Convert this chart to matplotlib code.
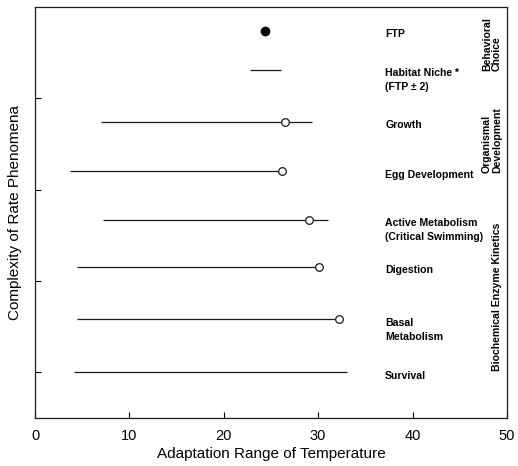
import matplotlib
matplotlib.use("Agg")
import matplotlib.pyplot as plt

plt.rcParams['font.family'] = ['Liberation Sans', 'DejaVu Sans']

# rows, bottom to top
labels = ["Survival", "Basal\nMetabolism", "Digestion",
          "Active Metabolism\n(Critical Swimming)", "Egg Development",
          "Growth", "Habitat Niche *\n(FTP \u00b1 2)", "FTP"]
row_pos = [0.0, 0.58, 1.15, 1.67, 2.20, 2.74, 3.31, 3.74]
range_lo = [4.1, 4.5, 4.5, 7.2, 3.7, 7.0, 22.8, None]
range_hi = [33.1, 32.2, 30.1, 31.0, 26.2, 29.3, 26.1, None]
optimum = [None, 32.2, 30.1, 29.0, 26.2, 26.5, None, 24.4]

groups = ["Biochemical Enzyme Kinetics", "Organismal\nDevelopment", "Behavioral\nChoice"]
group_pos = [(49.0, 0.02), (48.4, 2.18), (48.4, 3.30)]

fig = plt.figure(figsize=(5.18, 4.66), dpi=100)
ax = fig.add_axes([0.0676, 0.103, 0.911, 0.882])

ink = '#1a1a1a'
for y, lo, hi, opt, lab in zip(row_pos, range_lo, range_hi, optimum, labels):
    if lo is not None:
        ax.plot([lo, hi], [y, y], color=ink, lw=0.9, solid_capstyle='butt')
    if opt is not None:
        if lab == "FTP":
            ax.plot(opt, y, 'o', color='black', ms=6)
        else:
            ax.plot(opt, y, 'o', mfc='white', mec=ink, mew=0.9, ms=5.5)
    # first text line sits on the row, further lines hang below it
    ax.annotate(lab, (37.1, y), xytext=(0, 1.3), textcoords='offset points',
                ha='left', va='top', fontsize=7.6, fontweight='bold',
                linespacing=1.5)

for g, (gx, gy) in zip(groups, group_pos):
    ax.text(gx, gy, g, rotation=90, ha='center', va='bottom',
            multialignment='left', fontsize=7.6, fontweight='bold',
            linespacing=1.0)

ax.set_xlim(0, 50)
ax.set_ylim(-0.5, 4.0)
ax.set_xticks([0, 10, 20, 30, 40, 50])
ax.set_yticks([0, 1, 2, 3])
ax.set_yticklabels([])
ax.tick_params(direction='in', length=4, width=0.8, labelsize=10.5, pad=8)
for s in ax.spines.values():
    s.set_linewidth(0.9)
    s.set_color(ink)

ax.set_xlabel("Adaptation Range of Temperature", fontsize=11, labelpad=3)
ax.set_ylabel("Complexity of Rate Phenomena", fontsize=11)
ax.yaxis.set_label_coords(-0.028, 0.5)

fig.savefig("out.png", dpi=100)
